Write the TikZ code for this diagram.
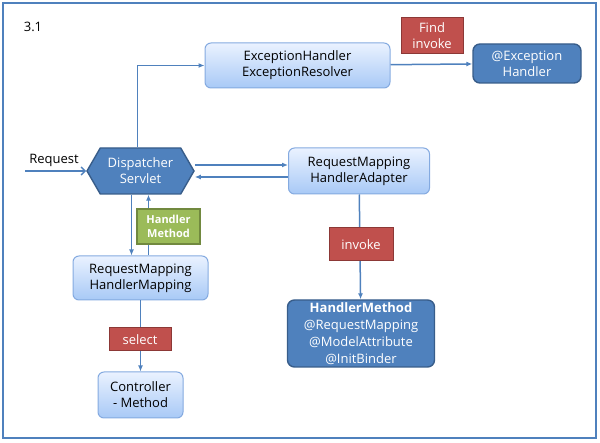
\documentclass[tikz,border=0pt]{standalone}
\usepackage{fontspec}
\setmainfont{Open Sans}
\usetikzlibrary{shapes.symbols,arrows.meta}
\definecolor{lineblue}{RGB}{79,129,189}
\definecolor{boxtop}{RGB}{234,242,255}
\definecolor{boxbottom}{RGB}{168,201,246}
\definecolor{boxline}{RGB}{132,170,224}
\definecolor{darkfill}{RGB}{79,129,189}
\definecolor{darkline}{RGB}{56,93,138}
\definecolor{tagred}{RGB}{192,80,77}
\definecolor{tagredline}{RGB}{140,56,54}
\definecolor{taggreen}{RGB}{155,187,89}
\definecolor{taggreenline}{RGB}{113,137,63}
\begin{document}
\begin{tikzpicture}[x=1pt,y=-1pt,
  font=\fontsize{13}{16}\selectfont,
  lightbox/.style={draw=boxline, line width=1pt, rounded corners=6pt, top color=boxtop, bottom color=boxbottom, align=center, inner sep=0pt},
  darkbox/.style={draw=darkline, line width=1.4pt, rounded corners=7pt, fill=darkfill, text=white, align=center, inner sep=0pt},
  redtag/.style={draw=tagredline, line width=1pt, fill=tagred, text=white, align=center, inner sep=0pt},
  greentag/.style={draw=taggreenline, line width=1.4pt, fill=taggreen, text=white, align=center, inner sep=0pt, font=\fontsize{11}{14}\selectfont\bfseries},
  flow/.style={draw=lineblue, line width=1.5pt, -{Latex[length=6pt,width=5pt]}}]
\useasboundingbox (0,0) rectangle (600,443);
% Frame
\draw[lineblue, line width=2pt] (3,3) rectangle (596,438);
\node (num) at (33,27) {3.1};
% Boxes
\node[lightbox, minimum width=185pt, minimum height=45pt] (resolver) at (297.5,65.5) {ExceptionHandler\\ExceptionResolver};
\node[darkbox, minimum width=108pt, minimum height=39pt] (exhandler) at (527,63.5) {@Exception\\Handler};
\node[signal, signal to=east and west, signal pointer angle=120, fill=darkfill, draw=darkline, line width=1.4pt, text=white, align=center, inner sep=0pt, minimum width=107pt, minimum height=46pt] (disp) at (140.5,171) {Dispatcher\\Servlet};
\node[lightbox, minimum width=141pt, minimum height=46pt] (adapter) at (359,171) {RequestMapping\\HandlerAdapter};
\node[lightbox, minimum width=135pt, minimum height=44pt] (mapping) at (140.5,278) {RequestMapping\\HandlerMapping};
\node[lightbox, minimum width=85pt, minimum height=46pt] (controller) at (140.5,395) {Controller\\- Method};
\node[darkbox, minimum width=147pt, minimum height=67pt, font=\fontsize{13}{17}\selectfont] (hmethod) at (361,333.5) {\textbf{HandlerMethod}\\@RequestMapping\\@ModelAttribute\\@InitBinder};
\node (req) at (54,160) {Request};
\coordinate (reqstart) at (25,171);
% Connectors
\draw[draw=lineblue, line width=1.5pt, -{Straight Barb[length=4pt,width=8pt]}] (reqstart) -- (disp.west);
\draw[flow] ([xshift=-3pt]disp.north) |- (resolver.west);
\draw[flow] (resolver) -- (exhandler);
\draw[flow] ([yshift=6pt]disp.east) -- ([yshift=6pt]disp.east -| adapter.west);
\draw[flow] ([yshift=-6pt]adapter.west) -- ([yshift=-6pt]adapter.west -| disp.east);
\draw[flow] (adapter) -- (hmethod);
\draw[flow] ([xshift=-9pt]disp.south) -- ([xshift=-9pt]disp.south |- mapping.north);
\draw[flow] ([xshift=8pt]mapping.north) -- ([xshift=8pt]mapping.north |- disp.south);
\draw[flow] (mapping) -- (controller);
% Tags
\node[redtag, minimum width=62pt, minimum height=36pt] (find) at (432,36) {Find\\invoke};
\node[redtag, minimum width=64pt, minimum height=33pt] (invoke) at (361,244.5) {invoke};
\node[redtag, minimum width=62pt, minimum height=23pt] (select) at (140,339.5) {select};
\node[greentag, minimum width=63pt, minimum height=35pt] (hm) at (168.5,226.5) {Handler\\Method};
\end{tikzpicture}
\end{document}
